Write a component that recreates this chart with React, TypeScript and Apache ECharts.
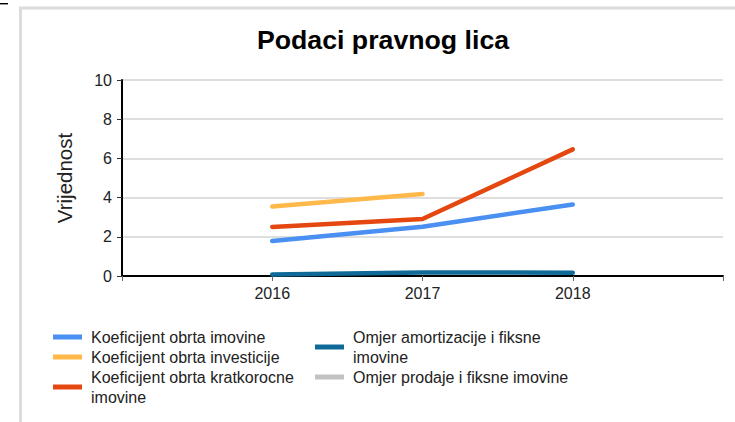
import React, { useEffect, useRef } from "react";
import * as echarts from "echarts";

const years = [2016, 2017, 2018];
const seriesNames = [
  "Koeficijent obrta imovine",
  "Koeficijent obrta investicije",
  "Koeficijent obrta kratkorocne imovine",
  "Omjer amortizacije i fiksne imovine",
  "Omjer prodaje i fiksne imovine",
];
const koefImovine = [1.78, 2.51, 3.65];
const koefInvesticije = [3.54, 4.18, null];
const koefKratkorocne = [2.5, 2.91, 6.46];
const omjerAmortizacije = [0.08, 0.18, 0.17];
const omjerProdaje = [null, null, null];
const colors = ["#4a8ff2", "#ffb84a", "#e4470f", "#0f6a98", "#c2c2c2"];
const yTicks = [0, 2, 4, 6, 8, 10];

const FONT = "'Liberation Sans', Arial, sans-serif";

export default function App() {
  const ref = useRef<HTMLDivElement>(null);
  useEffect(() => {
    if (!ref.current) return;
    const chart = echarts.init(ref.current, null, { renderer: "svg" });
    const allValues = [koefImovine, koefInvesticije, koefKratkorocne, omjerAmortizacije, omjerProdaje];
    const legendText = {
      fontSize: 16,
      fontFamily: FONT,
      color: "#222",
      lineHeight: 20,
      width: 225,
      overflow: "break",
      padding: [0, 0, 0, 4],
    };
    chart.setOption({
      animation: false,
      color: colors,
      textStyle: { fontFamily: FONT },
      graphic: [
        {
          type: "polyline",
          shape: { points: [[20.5, 440], [20.5, 8], [760, 8]] },
          style: { fill: "none", stroke: "#dcdcdc", lineWidth: 3 },
          silent: true,
          z: -10,
        },
        {
          type: "line",
          shape: { x1: 0, y1: 3.7, x2: 8, y2: 3.7 },
          style: { stroke: "#000", lineWidth: 1.4 },
          silent: true,
        },
        {
          type: "text",
          x: 383,
          y: 40,
          style: {
            text: "Podaci pravnog lica",
            fontSize: 26.7,
            fontWeight: "bold",
            fontFamily: FONT,
            fill: "#000",
            align: "center",
            verticalAlign: "middle",
          },
        },
      ],
      grid: { left: 122, top: 80, width: 601, height: 196 },
      legend: [
        {
          data: seriesNames.slice(0, 3),
          orient: "vertical",
          left: 53,
          top: 327,
          padding: 0,
          itemGap: 0,
          itemWidth: 29,
          itemHeight: 5,
          icon: "rect",
          selectedMode: false,
          textStyle: legendText,
        },
        {
          data: seriesNames.slice(3),
          orient: "vertical",
          left: 315,
          top: 327,
          padding: 0,
          itemGap: 0,
          itemWidth: 29,
          itemHeight: 5,
          icon: "rect",
          selectedMode: false,
          textStyle: legendText,
        },
      ],
      xAxis: {
        type: "value",
        min: 2015,
        max: 2019,
        interval: 1,
        axisLine: { show: true, lineStyle: { color: "#000", width: 2 } },
        axisTick: { show: true, length: 5, lineStyle: { color: "#666", width: 1 } },
        splitLine: { show: false },
        axisLabel: {
          fontSize: 16,
          color: "#222",
          margin: 9,
          fontFamily: FONT,
          formatter: (v: number) => (years.includes(v) ? String(v) : ""),
        },
      },
      yAxis: {
        type: "value",
        min: yTicks[0],
        max: yTicks[yTicks.length - 1],
        interval: 2,
        name: "Vrijednost",
        nameLocation: "middle",
        nameGap: 47,
        nameTextStyle: { fontSize: 20.5, color: "#222", fontFamily: FONT },
        axisLine: { show: true, lineStyle: { color: "#000", width: 2 } },
        axisTick: { show: true, length: 5, lineStyle: { color: "#333", width: 1 } },
        splitLine: { show: true, lineStyle: { color: "#dedede", width: 2 } },
        axisLabel: { fontSize: 16, color: "#222", margin: 10, fontFamily: FONT },
      },
      series: seriesNames.map((name, i) => ({
        name,
        type: "line",
        data: years.map((y, j) => [y, allValues[i][j]]),
        symbol: "none",
        showSymbol: false,
        connectNulls: false,
        lineStyle: { width: 4.5, cap: "round", join: "round", color: colors[i] },
        itemStyle: { color: colors[i] },
        z: i === 3 ? 3 : 2,
      })),
    });
    return () => chart.dispose();
  }, []);
  return (
    <div
      ref={ref}
      style={{ position: "absolute", left: 0, top: 0, width: 735, height: 422 }}
    />
  );
}
